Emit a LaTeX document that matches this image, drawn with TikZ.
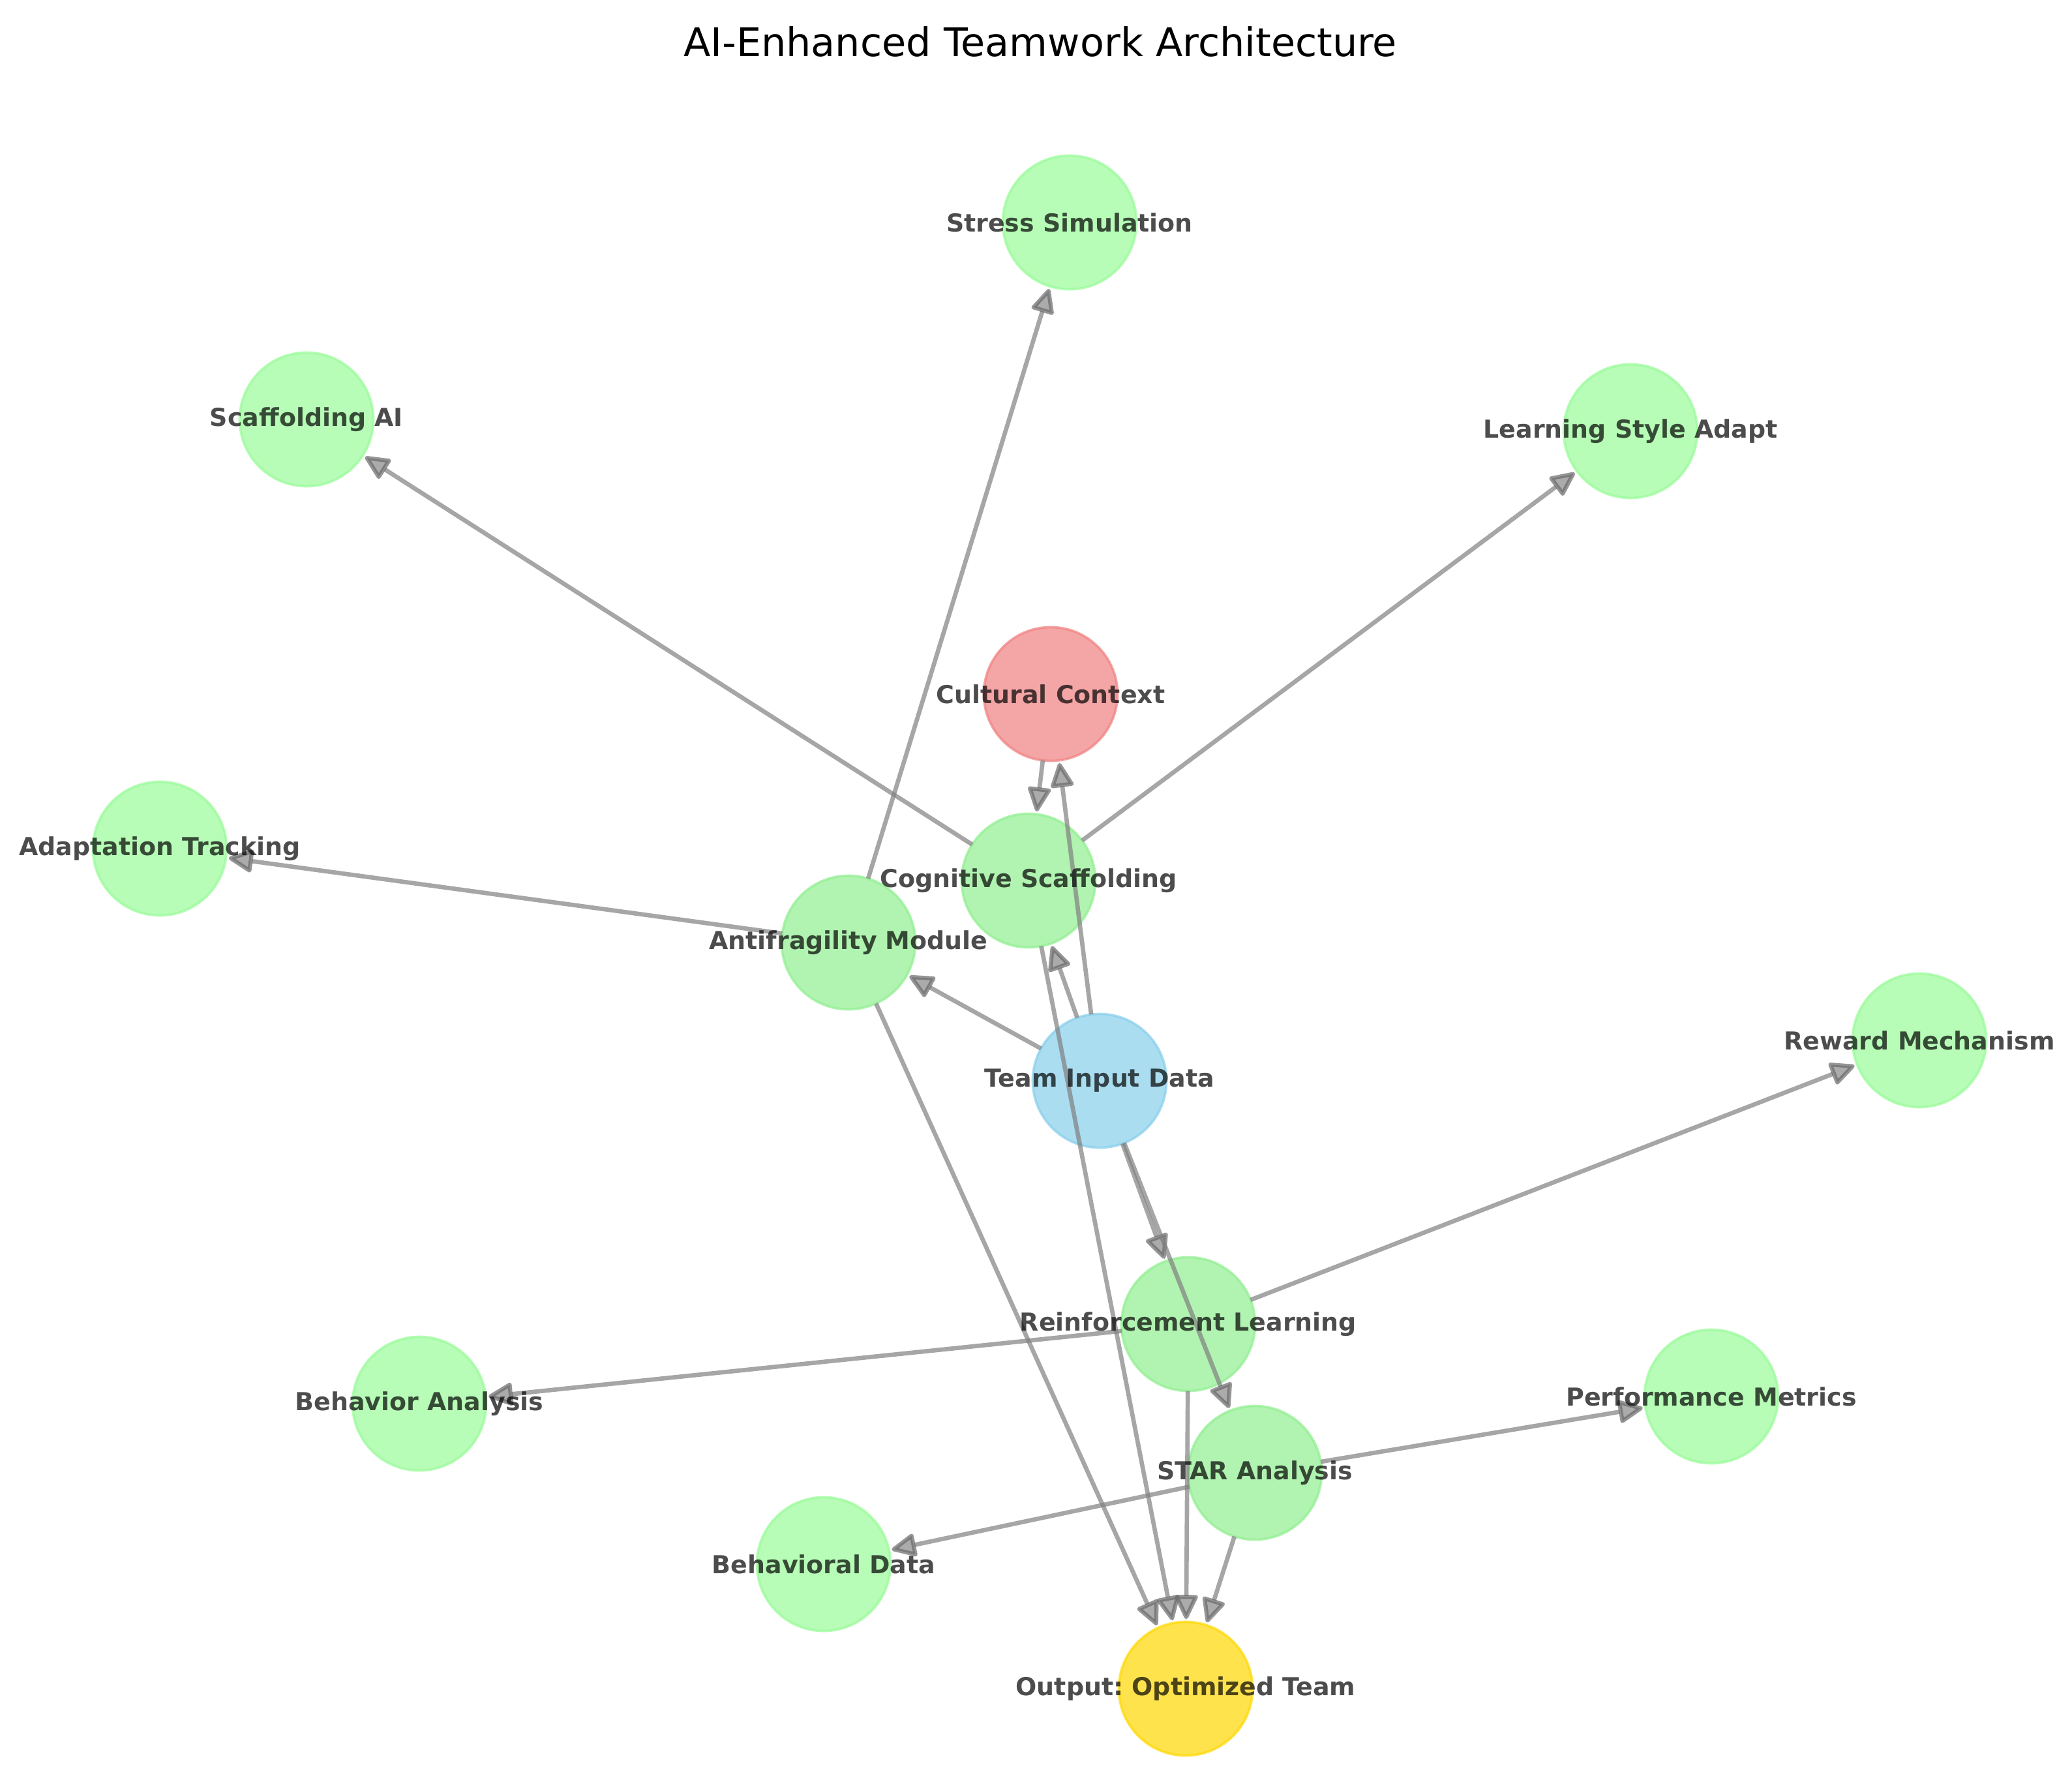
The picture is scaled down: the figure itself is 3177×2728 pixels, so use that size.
\documentclass[tikz,border=0pt]{standalone}
\usepackage{fontspec}
\setmainfont{DejaVu Sans}
\usetikzlibrary{arrows.meta}
\definecolor{skyb}{RGB}{135,206,235}
\definecolor{coral}{RGB}{240,128,128}
\definecolor{pale}{RGB}{152,251,152}
\definecolor{lgreen}{RGB}{144,238,144}
\definecolor{golden}{RGB}{255,215,0}
\definecolor{tipline}{RGB}{105,105,105}
\definecolor{tipfill}{RGB}{135,135,135}
\tikzset{
  circ/.style={circle,fill=#1,draw=#1,opacity=.7,line width=.9pt,inner sep=0,outer sep=0,minimum size=49.2pt},
  lbl/.style={font=\frenchspacing\bfseries\fontsize{9.1}{11}\selectfont,text=black,text opacity=.7,inner sep=0},
  edge/.style={gray,opacity=.7,line width=1.6pt,shorten >=1pt,-{Triangle[round,length=10pt,width=9pt,color=tipline,fill=tipfill,line width=1.5pt]}}
}
\begin{document}
\begin{tikzpicture}[x=.24pt,y=-.24pt]
\useasboundingbox (0,0) rectangle (3177,2728);
\foreach \n/\x/\y/\c in {team/1686/1657/skyb,cultural/1611/1064/coral,cognitive/1577/1350/lgreen,antifrag/1301/1445/lgreen,
  reinforce/1822/2030/lgreen,star/1924/2258/lgreen,output/1818/2589/golden,stress/1640/341/pale,scaffai/470/643/pale,
  learnstyle/2500/661/pale,adapt/245/1301/pale,reward/2943/1595/pale,behanalysis/643/2152/pale,perf/2624/2141/pale,behdata/1263/2398/pale} {
  \node[circ=\c] (\n) at (\x,\y) {};
}
\foreach \a/\b in {team/antifrag,team/cognitive,team/cultural,team/reinforce,team/star,cultural/cognitive,
  cognitive/scaffai,cognitive/learnstyle,cognitive/output,antifrag/adapt,antifrag/stress,antifrag/output,
  reinforce/behanalysis,reinforce/reward,reinforce/output,star/behdata,star/perf,star/output} {
  \draw[edge] (\a) -- (\b);
}
\foreach \n/\t in {team/Team Input Data,cultural/Cultural Context,cognitive/Cognitive Scaffolding,antifrag/Antifragility Module,
  reinforce/Reinforcement Learning,star/STAR Analysis,output/Output: Optimized Team,stress/Stress Simulation,scaffai/Scaffolding AI,
  learnstyle/Learning Style Adapt,adapt/Adaptation Tracking,reward/Reward Mechanism,behanalysis/Behavior Analysis,
  perf/Performance Metrics,behdata/Behavioral Data} {
  \node[lbl] (l\n) at (\n) {\t};
}
\node[font=\fontsize{14.5}{17}\selectfont] (title) at (1595,64) {AI-Enhanced Teamwork Architecture};
\end{tikzpicture}
\end{document}
